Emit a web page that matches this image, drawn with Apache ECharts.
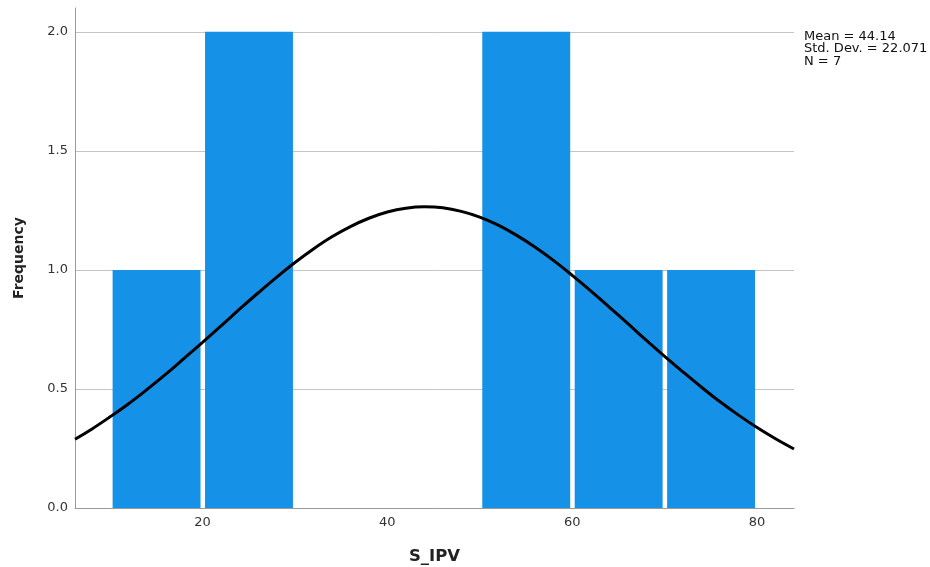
<!DOCTYPE html>
<html>
<head>
<meta charset="utf-8">
<script src="https://cdn.jsdelivr.net/npm/echarts@6/dist/echarts.min.js"></script>
<style>
  html, body { margin: 0; padding: 0; background: #fff; }
  #chart { width: 930px; height: 567px; }
</style>
</head>
<body>
<div id="chart"></div>
<script>
// histogram bins of S_IPV (start, end, frequency)
var binStart = [10, 20, 50, 60, 70];
var binEnd = [20, 30, 60, 70, 80];
var binCount = [1, 2, 2, 1, 1];

// normal curve
var curveX = [6.2, 8, 10, 12, 14, 16, 18, 20, 22, 24, 26, 28, 30, 32, 34, 36, 38, 40, 42, 44, 46, 48, 50,
              52, 54, 56, 58, 60, 62, 64, 66, 68, 70, 72, 74, 76, 78, 80, 82, 84];
var curveY = [0.289, 0.331, 0.383, 0.438, 0.498, 0.561, 0.628, 0.696, 0.765, 0.835, 0.903, 0.969, 1.031,
              1.088, 1.139, 1.182, 1.217, 1.243, 1.259, 1.265, 1.261, 1.246, 1.222, 1.188, 1.145, 1.095,
              1.039, 0.977, 0.912, 0.844, 0.775, 0.705, 0.637, 0.571, 0.507, 0.446, 0.390, 0.338, 0.291, 0.248];

var xTicks = [20, 40, 60, 80];
var statsText = ['Mean = 44.14', 'Std. Dev. = 22.071', 'N = 7'];

var chart = echarts.init(document.getElementById('chart'));

var barData = binStart.map(function (s, i) { return [s, binEnd[i], binCount[i]]; });
var curveData = curveX.map(function (x, i) { return [x, curveY[i]]; });

var option = {
  backgroundColor: '#fff',
  animation: false,
  grid: { left: 75, right: 136, top: 8, bottom: 59, containLabel: false, outerBoundsMode: 'none' },
  xAxis: {
    type: 'value',
    min: 6.2,
    max: 84,
    name: 'S_IPV',
    nameLocation: 'middle',
    nameGap: 40,
    nameTextStyle: { fontFamily: 'DejaVu Sans', fontWeight: 'bold', fontSize: 16.5, color: '#222' },
    axisLine: { show: true, lineStyle: { color: '#999', width: 1 } },
    axisTick: { show: false },
    splitLine: { show: false },
    axisLabel: {
      margin: 8,
      fontFamily: 'DejaVu Sans', fontSize: 13, color: '#333',
      customValues: xTicks,
      formatter: function (v) { return String(v); }
    }
  },
  yAxis: {
    type: 'value',
    min: 0,
    max: 2.1,
    interval: 0.5,
    name: 'Frequency',
    nameLocation: 'middle',
    nameRotate: 90,
    nameGap: 49,
    nameTextStyle: { fontFamily: 'DejaVu Sans', fontWeight: 'bold', fontSize: 14, color: '#222' },
    axisLine: { show: true, lineStyle: { color: '#999', width: 1 } },
    axisTick: { show: false },
    axisLabel: {
      margin: 7,
      fontFamily: 'DejaVu Sans', fontSize: 13, color: '#333',
      showMaxLabel: false,
      formatter: function (v) { return v.toFixed(1); }
    },
    splitLine: { show: true, showMinLine: false, showMaxLine: false, lineStyle: { color: '#c4c4c4', width: 1 } }
  },
  graphic: [{
    type: 'text',
    left: 804,
    top: 30,
    style: {
      text: statsText.join('\n'),
      fontFamily: 'DejaVu Sans',
      fontSize: 13,
      lineHeight: 12.5,
      fill: '#111'
    }
  }],
  series: [
    {
      type: 'custom',
      data: barData,
      encode: { x: [0, 1], y: 2 },
      renderItem: function (params, api) {
        var p0 = api.coord([api.value(0), api.value(2)]);
        var p1 = api.coord([api.value(1), 0]);
        return {
          type: 'rect',
          shape: { x: p0[0] + 2.5, y: p0[1], width: p1[0] - p0[0] - 4.5, height: p1[1] - p0[1] },
          style: { fill: '#1591e8' }
        };
      },
      z: 2
    },
    {
      type: 'line',
      data: curveData,
      smooth: 0.4,
      symbol: 'none',
      lineStyle: { color: '#000', width: 3 },
      z: 3
    }
  ]
};

chart.setOption(option);
</script>
</body>
</html>
